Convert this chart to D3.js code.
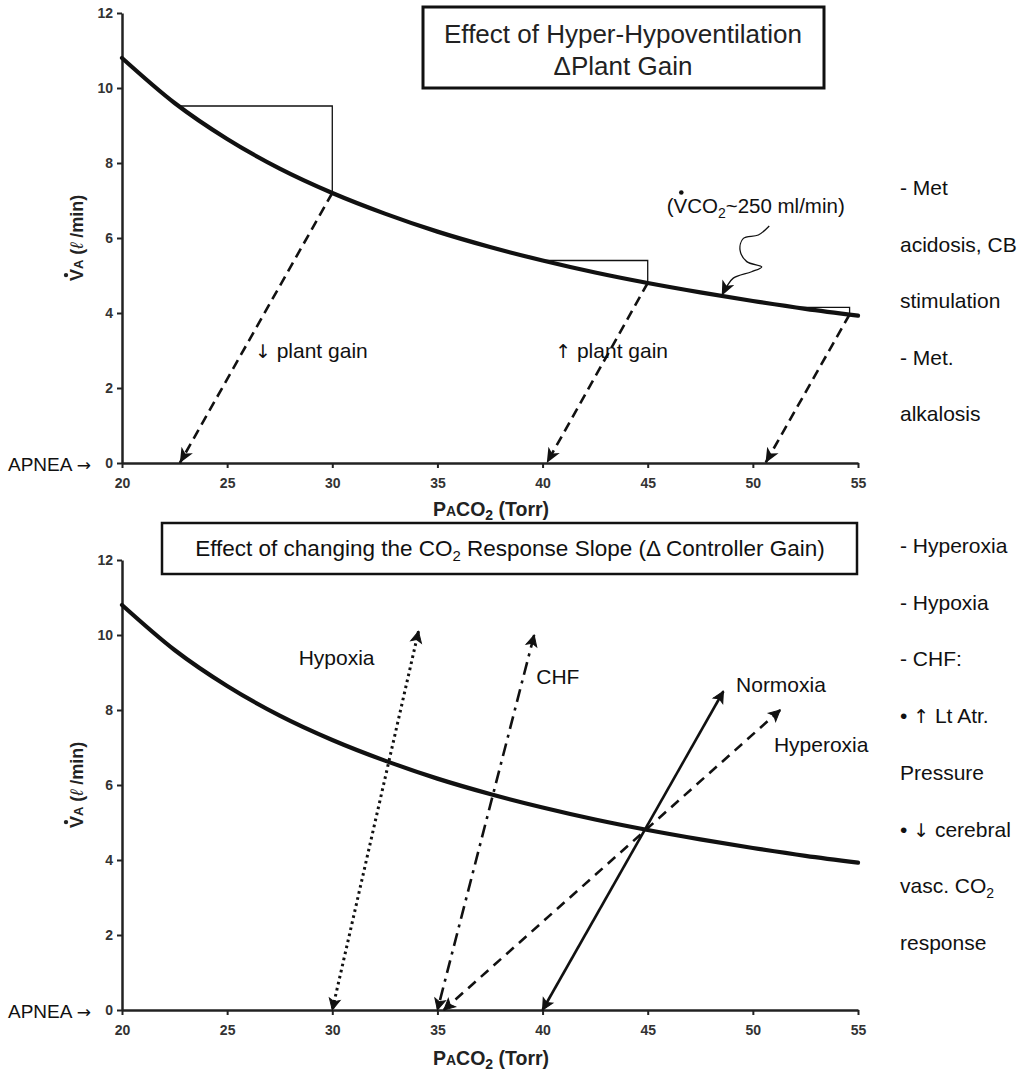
<!DOCTYPE html>
<html>
<head>
<meta charset="utf-8">
<script src="https://cdn.jsdelivr.net/npm/d3@7"></script>
<style>
  html, body { margin: 0; padding: 0; background: #fff; }
  svg { display: block; font-family: "Liberation Sans", Arial, sans-serif; }
</style>
</head>
<body>
<svg id="fig" width="1022" height="1074"></svg>
<script>
// Metabolic hyperbola: alveolar ventilation vs alveolar PCO2 at VCO2 ~250 ml/min
const paco2 = [20, 22.5, 25, 27.5, 30, 32.5, 35, 37.5, 40, 42.5, 45, 47.5, 50, 52.5, 55];
const va    = [10.8, 9.6, 8.64, 7.85, 7.2, 6.65, 6.17, 5.76, 5.4, 5.08, 4.8, 4.55, 4.32, 4.11, 3.93];

const xTicks = [20, 25, 30, 35, 40, 45, 50, 55];
const yTicks = [0, 2, 4, 6, 8, 10, 12];

// Plant gain triangles: left x, corner x, VA along the top, VA at the corner foot
const stepX0   = [22.7, 40.0, 52.0];
const stepX1   = [30.0, 45.0, 54.6];
const stepTop  = [9.52, 5.4, 4.15];
const stepBot  = [7.2, 4.8, 3.96];

// Apnea arrows from the hyperbola down to the axis
const apneaFrom = [[30, 7.2], [45, 4.8], [54.6, 3.96]];
const apneaTo   = [[22.75, 0], [40.2, 0], [50.6, 0]];

// CO2 response lines (controller gain)
const respNames = ["Hypoxia", "CHF", "Normoxia", "Hyperoxia"];
const respStart = [[30, 0], [35, 0], [40, 0], [35.3, 0]];
const respEnd   = [[34.1, 10.1], [39.6, 10.0], [48.6, 8.5], [51.3, 8.0]];
const respLabel = [[28.4, 9.2], [39.7, 8.7], [49.2, 8.48], [51.0, 6.88]];

// Squiggle leading from the VCO2 note to the curve
const squiggle = [[50.78, 6.32], [50.26, 6.08], [49.55, 5.99], [49.39, 5.68], [49.71, 5.37],
                  [50.42, 5.23], [49.94, 5.10], [49.07, 4.93], [48.75, 4.70], [48.52, 4.46]];

// Side notes; "^" marks an arrow glyph, "|" starts a subscript
const sideTop = ["- Met", "acidosis, CB", "stimulation", "- Met.", "alkalosis"];
const sideBottom = ["- Hyperoxia", "- Hypoxia", "- CHF:", "\u2022 ^\u2191^ Lt Atr.", "Pressure",
                    "\u2022 ^\u2193^ cerebral", "vasc. CO|2", "response"];

const svg = d3.select("#fig");
const FONT = "'Liberation Sans', Arial, sans-serif";
const ARROW_FONT = "'DejaVu Sans', 'Liberation Sans', sans-serif";

const x = d3.scaleLinear().domain([20, 55]).range([122, 858]);
const yTopScale = d3.scaleLinear().domain([0, 12]).range([463, 13]);
const yBotScale = d3.scaleLinear().domain([0, 12]).range([1010, 560]);

// Arrowhead markers
const defs = svg.append("defs");
defs.append("marker")
  .attr("id", "headFill").attr("viewBox", "0 -7 16 14")
  .attr("refX", 15).attr("refY", 0)
  .attr("markerUnits", "userSpaceOnUse").attr("markerWidth", 16).attr("markerHeight", 14)
  .attr("orient", "auto-start-reverse")
  .append("path").attr("d", "M0,-6.5 L15,0 L0,6.5 L4,0 Z").attr("fill", "#111");
defs.append("marker")
  .attr("id", "headOpen").attr("viewBox", "-1 -7 15 14")
  .attr("refX", 12).attr("refY", 0)
  .attr("markerUnits", "userSpaceOnUse").attr("markerWidth", 15).attr("markerHeight", 14)
  .attr("orient", "auto-start-reverse")
  .append("path").attr("d", "M1,-5.5 L12,0 L1,5.5 L3.5,0 Z")
  .attr("fill", "#111").attr("stroke", "#111").attr("stroke-width", 1)
  .attr("stroke-dasharray", "none");

const line = (y) => d3.line().x(d => x(d[0])).y(d => y(d[1]));

function drawAxes(g, y) {
  const gx = g.append("g").attr("transform", `translate(0,${y(0)})`)
    .call(d3.axisBottom(x).tickValues(xTicks).tickSize(5).tickSizeOuter(0));
  const gy = g.append("g").attr("transform", `translate(${x(20)},0)`)
    .call(d3.axisLeft(y).tickValues(yTicks).tickSize(5).tickSizeOuter(0));
  [gx, gy].forEach(a => {
    a.select(".domain").attr("stroke", "#222").attr("stroke-width", 2.5);
    a.selectAll(".tick line").attr("stroke", "#222").attr("stroke-width", 2);
    a.selectAll(".tick text").attr("font-family", FONT).attr("font-weight", "bold")
      .attr("font-size", 14).attr("fill", "#333");
  });
  gx.selectAll(".tick text").attr("y", 15);
  gy.selectAll(".tick text").attr("x", -9);
}

function drawCurve(g, y) {
  g.append("path")
    .datum(paco2.map((p, i) => [p, va[i]]))
    .attr("d", line(y).curve(d3.curveMonotoneX))
    .attr("fill", "none").attr("stroke", "#111").attr("stroke-width", 4.2)
    .attr("stroke-linecap", "round");
}

function drawYLabel(g, cy) {
  const lg = g.append("g").attr("transform", `translate(83,${cy}) rotate(-90)`);
  const t = lg.append("text").attr("text-anchor", "middle")
    .attr("font-family", FONT).attr("font-weight", "bold").attr("font-size", 18).attr("fill", "#222");
  t.append("tspan").text("V");
  t.append("tspan").attr("font-size", 13).text("A");
  t.append("tspan").text(" (");
  t.append("tspan").attr("font-style", "italic").attr("font-weight", "normal").text("\u2113");
  t.append("tspan").text(" /min)");
  const e = t.node().getExtentOfChar(0);
  lg.append("circle").attr("cx", e.x + e.width / 2).attr("cy", e.y - 1).attr("r", 2.2).attr("fill", "#222");
}

function drawXLabel(g, baseline) {
  const t = g.append("text").attr("x", 491).attr("y", baseline).attr("text-anchor", "middle")
    .attr("font-family", FONT).attr("font-weight", "bold").attr("font-size", 19.5).attr("fill", "#222");
  t.append("tspan").text("P");
  t.append("tspan").attr("font-size", 14).text("A");
  t.append("tspan").text("CO");
  t.append("tspan").attr("font-size", 14).attr("dy", 4).text("2");
  t.append("tspan").attr("dy", -4).text(" (Torr)");
}

function drawApnea(g, y) {
  const t = g.append("text").attr("x", 8).attr("y", y(0) + 8)
    .attr("font-family", FONT).attr("font-size", 19).attr("fill", "#111");
  t.append("tspan").text("APNEA ");
  t.append("tspan").attr("font-family", ARROW_FONT).attr("font-size", 17).text("\u2192");
}

// text with an arrow glyph in front, e.g. "↓ plant gain"
function arrowText(g, xPos, yPos, arrow, rest) {
  const t = g.append("text").attr("x", xPos).attr("y", yPos)
    .attr("font-family", FONT).attr("font-size", 21).attr("fill", "#111");
  t.append("tspan").attr("font-family", ARROW_FONT).attr("font-size", 19).text(arrow);
  t.append("tspan").text(" " + rest);
}

// ---------- Upper panel: change in plant gain ----------
const gUp = svg.append("g");
drawAxes(gUp, yTopScale);

// triangles
stepX0.forEach((x0, i) => {
  gUp.append("path")
    .datum([[x0, stepTop[i]], [stepX1[i], stepTop[i]], [stepX1[i], stepBot[i]]])
    .attr("d", line(yTopScale))
    .attr("fill", "none").attr("stroke", "#111").attr("stroke-width", 1.3);
});
drawCurve(gUp, yTopScale);

apneaFrom.forEach((f, i) => {
  gUp.append("path").datum([f, apneaTo[i]])
    .attr("d", line(yTopScale))
    .attr("fill", "none").attr("stroke", "#111").attr("stroke-width", 2.6)
    .attr("stroke-dasharray", "10,6")
    .attr("marker-end", "url(#headFill)");
});

// squiggle pointing at the curve
gUp.append("path").datum(squiggle)
  .attr("d", line(yTopScale).curve(d3.curveCatmullRom))
  .attr("fill", "none").attr("stroke", "#111").attr("stroke-width", 1.3)
  .attr("marker-end", "url(#headFill)");

const vco2 = gUp.append("text").attr("x", x(45.9)).attr("y", yTopScale(6.68))
  .attr("font-family", FONT).attr("font-size", 20.5).attr("fill", "#111");
vco2.append("tspan").text("(V");
vco2.append("tspan").text("CO");
vco2.append("tspan").attr("font-size", 14).attr("dy", 5).text("2");
vco2.append("tspan").attr("dy", -5).text("~250 ml/min)");
{
  const e = vco2.node().getExtentOfChar(1);
  gUp.append("circle").attr("cx", e.x + e.width / 2 + 1).attr("cy", e.y - 1).attr("r", 2.3).attr("fill", "#111");
}

arrowText(gUp, x(26.32), yTopScale(2.8), "\u2193", "plant gain");
arrowText(gUp, x(40.6), yTopScale(2.8), "\u2191", "plant gain");

// title box
gUp.append("rect").attr("x", 423).attr("y", 7).attr("width", 401).attr("height", 81)
  .attr("fill", "#fff").attr("stroke", "#111").attr("stroke-width", 3);
gUp.append("text").attr("x", 623).attr("y", 43).attr("text-anchor", "middle")
  .attr("font-family", FONT).attr("font-size", 26).attr("fill", "#222")
  .text("Effect of Hyper-Hypoventilation");
gUp.append("text").attr("x", 623).attr("y", 75).attr("text-anchor", "middle")
  .attr("font-family", FONT).attr("font-size", 26).attr("fill", "#222")
  .text("\u0394Plant Gain");

drawYLabel(gUp, 238);
drawXLabel(gUp, 516);
drawApnea(gUp, yTopScale);

// ---------- Lower panel: change in controller gain ----------
const gLow = svg.append("g");
drawAxes(gLow, yBotScale);
drawCurve(gLow, yBotScale);

const respDash = ["2.6,3.6", "13,6,3,6", null, "10,7"];
const respWidth = [3, 2.6, 2.6, 2.6];
respNames.forEach((name, i) => {
  const p = gLow.append("path").datum([respEnd[i], respStart[i]])
    .attr("d", line(yBotScale))
    .attr("fill", "none").attr("stroke", "#111").attr("stroke-width", respWidth[i])
    .attr("marker-start", "url(#headOpen)").attr("marker-end", "url(#headOpen)");
  if (respDash[i]) p.attr("stroke-dasharray", respDash[i]);
  gLow.append("text").attr("x", x(respLabel[i][0])).attr("y", yBotScale(respLabel[i][1]))
    .attr("font-family", FONT).attr("font-size", 21).attr("fill", "#111").text(name);
});

gLow.append("rect").attr("x", 162).attr("y", 523).attr("width", 695).attr("height", 51)
  .attr("fill", "#fff").attr("stroke", "#111").attr("stroke-width", 2.5);
{
  const t = gLow.append("text").attr("x", 510).attr("y", 556).attr("text-anchor", "middle")
    .attr("font-family", FONT).attr("font-size", 22.5).attr("fill", "#111");
  t.append("tspan").text("Effect of changing the CO");
  t.append("tspan").attr("font-size", 15).attr("dy", 5).text("2");
  t.append("tspan").attr("dy", -5).text(" Response Slope (\u0394 Controller Gain)");
}

drawYLabel(gLow, 785);
drawXLabel(gLow, 1065);
drawApnea(gLow, yBotScale);

// ---------- Side notes ----------
function sideText(lines, y0, step) {
  lines.forEach((s, i) => {
    const t = svg.append("text").attr("x", 900).attr("y", y0 + i * step)
      .attr("font-family", FONT).attr("font-size", 21).attr("fill", "#111");
    const [main, sub] = s.split("|");
    main.split("^").forEach((seg, k) => {
      if (!seg) return;
      const ts = t.append("tspan").text(seg);
      if (k % 2 === 1) ts.attr("font-family", ARROW_FONT).attr("font-size", 19);
    });
    if (sub) t.append("tspan").attr("font-size", 14).attr("dy", 5).text(sub);
  });
}
sideText(sideTop, 195, 56.5);
sideText(sideBottom, 553, 56.7);
</script>
</body>
</html>
